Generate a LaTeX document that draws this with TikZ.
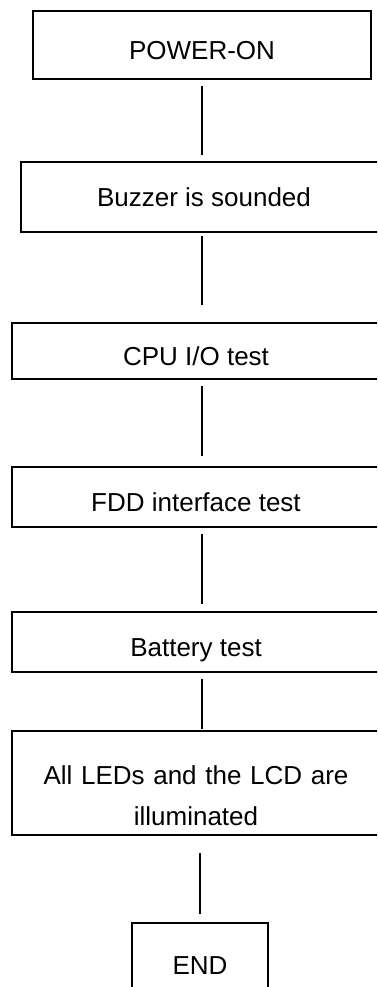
\documentclass[tikz,border=0pt]{standalone}
\usepackage{fontspec}
\setmainfont{Liberation Sans}
\usetikzlibrary{positioning}

\begin{document}
\begin{tikzpicture}[
  x=0.5pt, y=-0.5pt,
  every node/.style={font=\fontsize{13pt}{19pt}\selectfont},
  stepbox/.style={draw, line width=1.1pt, inner sep=0pt, align=center,
    minimum width=184pt, text height=14pt, text depth=0pt},
  link/.style={line width=1.1pt}
]
  \clip (0,0) rectangle (377,987);

  \node[stepbox, minimum width=169pt, minimum height=34pt] (pwr) at (202,45) {POWER-ON};
  \node[stepbox, minimum width=183pt, minimum height=35pt, text height=9pt] (buzz) at (204,197) {Buzzer is sounded};
  \node[stepbox, minimum height=28pt] (cpu) at (196,351) {CPU I/O test};
  \node[stepbox, minimum height=30pt] (fdd) at (196,497) {FDD interface test};
  \node[stepbox, minimum height=30pt] (batt) at (196,642) {Battery test};
  \node[stepbox, minimum height=52pt, text width=170pt, text height=9pt, text depth=8pt,
    font=\fontsize{13pt}{20.5pt}\selectfont] (leds) at (196,783)
    {All LEDs and the LCD are\\illuminated};
  \node[stepbox, minimum width=68pt, minimum height=42pt, text height=9.3pt] (end) at (200,965) {END};

  \draw[link, shorten <=3pt, shorten >=3pt] (pwr.south) -- (pwr.south |- buzz.north);
  \draw[link, shorten <=1.5pt, shorten >=8.5pt] (buzz.south -| pwr) -- (cpu.north -| pwr);
  \draw[link, shorten <=3pt, shorten >=5pt] (cpu.south -| pwr) -- (fdd.north -| pwr);
  \draw[link, shorten <=3pt, shorten >=3.5pt] (fdd.south -| pwr) -- (batt.north -| pwr);
  \draw[link, shorten <=3pt, shorten >=0.5pt] (batt.south -| pwr) -- (leds.north -| pwr);
  \draw[link, shorten <=8.5pt, shorten >=4pt] (leds.south -| end) -- (end.north);
\end{tikzpicture}
\end{document}
